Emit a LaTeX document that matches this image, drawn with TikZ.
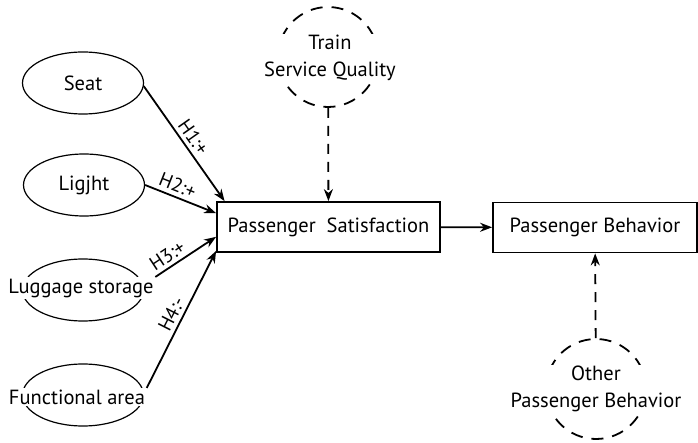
\documentclass[tikz,border=0pt]{standalone}
\usepackage{fontspec}
\setmainfont{PT Sans}
\usetikzlibrary{shapes.geometric, arrows.meta}
\begin{document}
\begin{tikzpicture}[x=1pt, y=-1pt,
        oval/.style={draw, ellipse, line width=1.2pt, minimum width=121pt, minimum height=62pt, inner sep=0pt},
        tag/.style={fill=white, inner sep=1.5pt, font=\fontsize{20.5}{27}\selectfont, align=center},
        factor/.style={draw, line width=1.8pt, minimum height=50pt, inner sep=0pt, font=\fontsize{20.5}{24}\selectfont},
        hidden/.style={draw, circle, line width=1.8pt, dash pattern=on 12pt off 9pt, minimum size=100pt, inner sep=0pt},
        link/.style={-{Stealth[length=12pt, width=9pt]}, line width=1.8pt},
        effect/.style={link, dash pattern=on 10pt off 8pt},
        hyp/.style={midway, above, sloped, inner sep=3.5pt, font=\fontsize{19.5}{21}\selectfont},
    ]
    \useasboundingbox (0,0) rectangle (698,443);

    % antecedents
    \node[oval] (seat) at (83,83) {};
    \node[oval] (light) at (84,185) {};
    \node[oval] (lug) at (83,290) {};
    \node[oval] (func) at (83,395) {};
    \node[tag] (seatt) at (seat) {Seat};
    \node[tag] (lightt) at (light) {Ligjht};
    \node[tag] (lugt) at (81,288) {Luggage storage};
    \node[tag] (funct) at (77,397) {Functional area};

    % constructs
    \node[factor, minimum width=223pt] (ps) at (328.5,227) {Passenger\ \ Satisfaction};
    \node[factor, minimum width=204pt] (pb) at (595,227.5) {Passenger Behavior};

    % moderators
    \node[hidden] (tsq) at (328,57) {};
    \node[tag] (tsqt) at (330,58) {Train\\Service Quality};
    \node[hidden] (opb) at (596,389) {};
    \node[tag] (opbt) at (596,389) {Other\\Passenger Behavior};

    \draw[link] (seat.-3) -- (ps.166) node[hyp] {H1:+};
    \draw[link] (light.east) -- (ps.173) node[hyp, pos=0.4] {H2:+};
    \draw[link] (lugt.north east) -- (ps.185) node[hyp, pos=0.3] {H3:+};
    \draw[link] (funct.north east) -- (ps.192) node[hyp, pos=0.5] {H4:-};

    \draw[link] (ps) -- (pb);
    \draw[effect] (tsq) -- (ps);
    \draw[effect] (opb) -- (pb);
\end{tikzpicture}
\end{document}
